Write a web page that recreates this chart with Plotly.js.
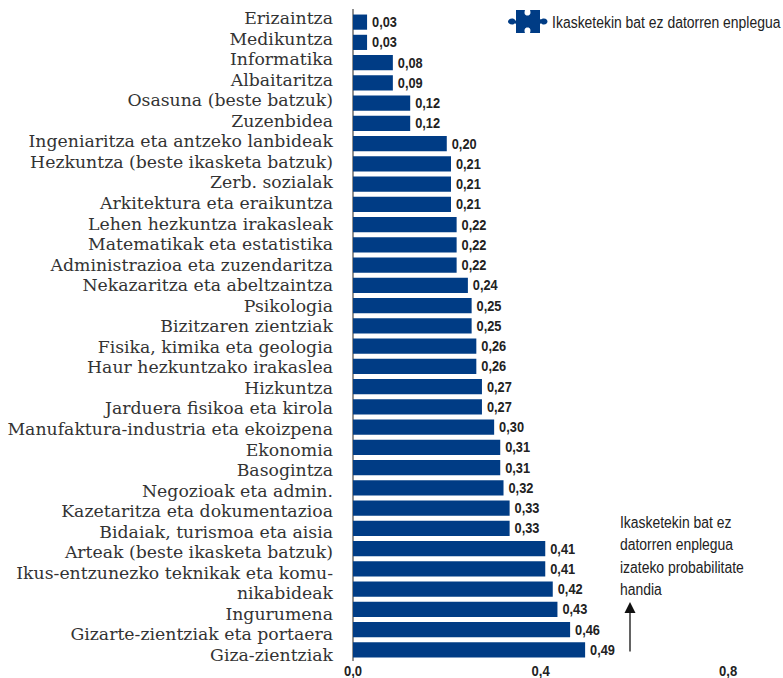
<!DOCTYPE html>
<html><head><meta charset="utf-8">
<script src="https://cdn.plot.ly/plotly-3.0.1.min.js"></script>
<style>html,body{margin:0;padding:0;background:#fff}</style></head>
<body><div id="c" style="width:783px;height:678px"></div>
<script>
const categories=["Erizaintza","Medikuntza","Informatika","Albaitaritza","Osasuna (beste batzuk)","Zuzenbidea","Ingeniaritza eta antzeko lanbideak","Hezkuntza (beste ikasketa batzuk)","Zerb. sozialak","Arkitektura eta eraikuntza","Lehen hezkuntza irakasleak","Matematikak eta estatistika","Administrazioa eta zuzendaritza","Nekazaritza eta abeltzaintza","Psikologia","Bizitzaren zientziak","Fisika, kimika eta geologia","Haur hezkuntzako irakaslea","Hizkuntza","Jarduera fisikoa eta kirola","Manufaktura-industria eta ekoizpena","Ekonomia","Basogintza","Negozioak eta admin.","Kazetaritza eta dokumentazioa","Bidaiak, turismoa eta aisia","Arteak (beste ikasketa batzuk)","Ikus-entzunezko teknikak eta komu-","nikabideak","Ingurumena","Gizarte-zientziak eta portaera","Giza-zientziak"];
const values=[0.03,0.03,0.085,0.085,0.122,0.122,0.20,0.209,0.209,0.209,0.221,0.221,0.221,0.245,0.253,0.253,0.263,0.263,0.275,0.275,0.301,0.314,0.314,0.321,0.334,0.334,0.41,0.41,0.426,0.436,0.463,0.495];
const valueLabels=["0,03","0,03","0,08","0,09","0,12","0,12","0,20","0,21","0,21","0,21","0,22","0,22","0,22","0,24","0,25","0,25","0,26","0,26","0,27","0,27","0,30","0,31","0,31","0,32","0,33","0,33","0,41","0,41","0,42","0,43","0,46","0,49"];
const xTicks=[0,0.4,0.8];
const xTickLabels=["0,0","0,4","0,8"];
const legendLabel="Ikasketekin bat ez datorren enplegua";
const noteLines=["Ikasketekin bat ez","datorren enplegua","izateko probabilitate","handia"];
const blue="#003c85", sans="'Liberation Sans',sans-serif", slab="'DejaVu Serif',serif";
const W=783,H=678,L=353,T=12,B=18;
const px=(x)=>(x-L)/(W-L), py=(y)=>(H-B-y)/(H-T-B);
const P=(x,y)=>`${px(x)} ${py(y)}`;
const notes=noteLines.map((t,i)=>({xref:'paper',yref:'paper',x:px(618),y:py(522.5+i*22.3),xanchor:'left',yanchor:'middle',align:'left',text:t,showarrow:false,font:{family:sans,size:16,color:'#222'}}));
const piece=`M ${P(516,21)} L ${P(516,10)} L ${P(525,10)} C ${P(524,13)} ${P(524.5,15.5)} ${P(527.5,15.5)} C ${P(530.5,15.5)} ${P(531,13)} ${P(530,10)} L ${P(540,10)} L ${P(540,19)} C ${P(541,20)} ${P(541.5,19)} ${P(543,18.5)} C ${P(546,18)} ${P(547.5,20)} ${P(547.5,21.5)} C ${P(547.5,23)} ${P(546,25)} ${P(543,24.5)} C ${P(541.5,24)} ${P(541,23)} ${P(540,24)} L ${P(540,33)} L ${P(530,33)} C ${P(531,30)} ${P(530.5,27.5)} ${P(527.5,27.5)} C ${P(524.5,27.5)} ${P(524,30)} ${P(525,33)} L ${P(516,33)} L ${P(516,24)} C ${P(515,23)} ${P(514.5,24)} ${P(513,24.5)} C ${P(510,25)} ${P(508,23)} ${P(508,21.5)} C ${P(508,20)} ${P(510,18)} ${P(513,18.5)} C ${P(514.5,19)} ${P(515,20)} ${P(516,21)} Z`;
Plotly.newPlot('c',[
 {type:'bar',orientation:'h',y:categories,x:values,text:valueLabels,textposition:'outside',cliponaxis:false,
  textfont:{family:sans,size:16.5,color:'#222',weight:700},marker:{color:blue},hoverinfo:'skip'},
 {type:'scatter',mode:'none',y:categories,x:values,yaxis:'y2',hoverinfo:'skip'}
],{
 width:W,height:H,margin:{l:L,r:0,t:T,b:B},bargap:0.25,showlegend:false,paper_bgcolor:'#fff',plot_bgcolor:'#fff',
 xaxis:{range:[0,0.917],tickmode:'array',tickvals:xTicks,ticktext:xTickLabels,showgrid:false,zeroline:false,showline:false,ticks:'',
  tickfont:{family:sans,size:14.5,color:'#222',weight:700},ticklabelstandoff:0},
 yaxis:{type:'category',categoryorder:'array',categoryarray:categories,range:[31.5,-0.5],showgrid:false,zeroline:false,showline:false,ticks:'',showticklabels:false},
 yaxis2:{type:'category',overlaying:'y',side:'left',categoryorder:'array',categoryarray:categories,range:[31.25,-0.297],showgrid:false,zeroline:false,showline:false,ticks:'',
  tickfont:{family:slab,size:17.3,color:'#333'},ticklabelstandoff:19,automargin:false,tickmode:'linear',dtick:1},
 shapes:[
  {type:'line',xref:'paper',yref:'paper',x0:0,x1:0,y0:py(9),y1:py(661),line:{color:'#222',width:1},layer:'below'},
  {type:'path',xref:'paper',yref:'paper',path:piece,fillcolor:blue,line:{width:0}}],
 annotations:[...notes,
  {xref:'paper',yref:'paper',x:1,y:py(23),xanchor:'right',yanchor:'middle',align:'right',text:legendLabel,showarrow:false,font:{family:sans,size:16,color:'#222'}},
  {xref:'paper',yref:'paper',x:px(630),y:py(602),axref:'pixel',ayref:'pixel',ax:0,ay:51,text:'',showarrow:true,arrowhead:2,arrowsize:1.7,arrowwidth:1.3,arrowcolor:'#111',standoff:0,startstandoff:0}
 ]},{displayModeBar:false,staticPlot:true}).then(gd=>{
  const squeeze=(sel,f,shift)=>gd.querySelectorAll(sel).forEach(t=>{
    const w=t.getComputedTextLength(); if(!w) return;
    t.setAttribute('lengthAdjust','spacingAndGlyphs'); t.setAttribute('textLength',w*f);
    if(shift!==undefined){t.setAttribute('x',(parseFloat(t.getAttribute('x'))||0)+shift);}
  });
  squeeze('text.bartext, .bartext text',0.92,1);
  squeeze('.xtick text',0.9);
  squeeze('.annotation-text',0.87);
 });
</script></body></html>
